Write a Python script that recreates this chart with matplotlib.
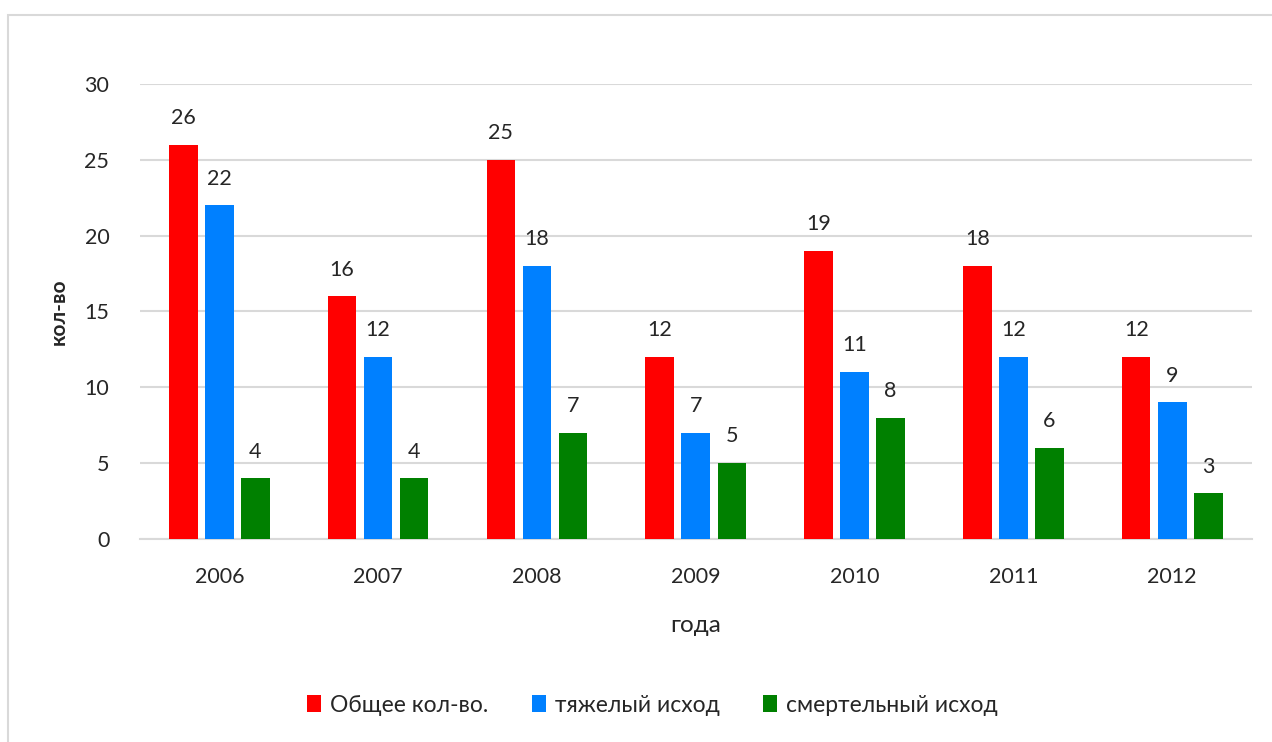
import matplotlib
matplotlib.use("Agg")
import matplotlib.pyplot as plt
import numpy as np
from matplotlib.patches import Rectangle

years = ["2006", "2007", "2008", "2009", "2010", "2011", "2012"]
total = [26, 16, 25, 12, 19, 18, 12]
severe = [22, 12, 18, 7, 11, 12, 9]
fatal = [4, 4, 7, 5, 8, 6, 3]
series_names = ["Общее кол-во.", "тяжелый исход", "смертельный исход"]
colors = ["#FF0000", "#0080FF", "#008000"]

plt.rcParams['font.family'] = ['Lato', 'DejaVu Sans']
txt = "#262626"

fig = plt.figure(figsize=(12.72, 7.42), dpi=100)
ax = fig.add_axes([0.110, 0.2736, 0.874, 0.6132])

# chart border
fig.patches.append(Rectangle((8/1272, -0.01), 1.2, 1-15/742+0.01,
                             transform=fig.transFigure, fill=False,
                             edgecolor="#D9D9D9", linewidth=1.5, zorder=0))

x = np.arange(len(years))
w = 0.18
step = 0.227
for i, (vals, c, name) in enumerate(zip([total, severe, fatal], colors, series_names)):
    pos = x + (i - 1) * step
    ax.bar(pos, vals, width=w, color=c, label=name, zorder=3)
    for p, v in zip(pos, vals):
        ax.annotate(str(v), (p, v), xytext=(0, 12), textcoords="offset points",
                    ha="center", va="bottom", fontsize=15.5, color=txt)

ax.set_xlim(-0.5, len(years) - 0.5)
ax.set_ylim(0, 30)
ax.set_yticks(range(0, 31, 5))
ax.set_xticks(x)
ax.set_xticklabels(years)
ax.grid(axis="y", color="#D9D9D9", linewidth=1.5, zorder=0)
for s in ["top", "right", "left"]:
    ax.spines[s].set_visible(False)
ax.spines["bottom"].set_color("#D9D9D9")
ax.spines["bottom"].set_linewidth(1.5)
ax.tick_params(axis="both", length=0, labelsize=15.5, colors=txt)
ax.tick_params(axis="x", pad=20)
ax.tick_params(axis="y", pad=22)

ax.set_xlabel("года", fontsize=17.5, color=txt, labelpad=20)
ax.set_ylabel("кол-во", fontsize=15, color=txt, fontweight="bold", labelpad=11)

handles, labels = ax.get_legend_handles_labels()
fig.legend(handles, labels, loc="center", bbox_to_anchor=(0.513, 1 - 705/742),
           ncol=3, frameon=False, fontsize=16.5, handlelength=0.6, handleheight=0.8,
           handletextpad=0.4, columnspacing=1.9, labelcolor=txt)

fig.savefig("out.png", dpi=100, facecolor="white")
